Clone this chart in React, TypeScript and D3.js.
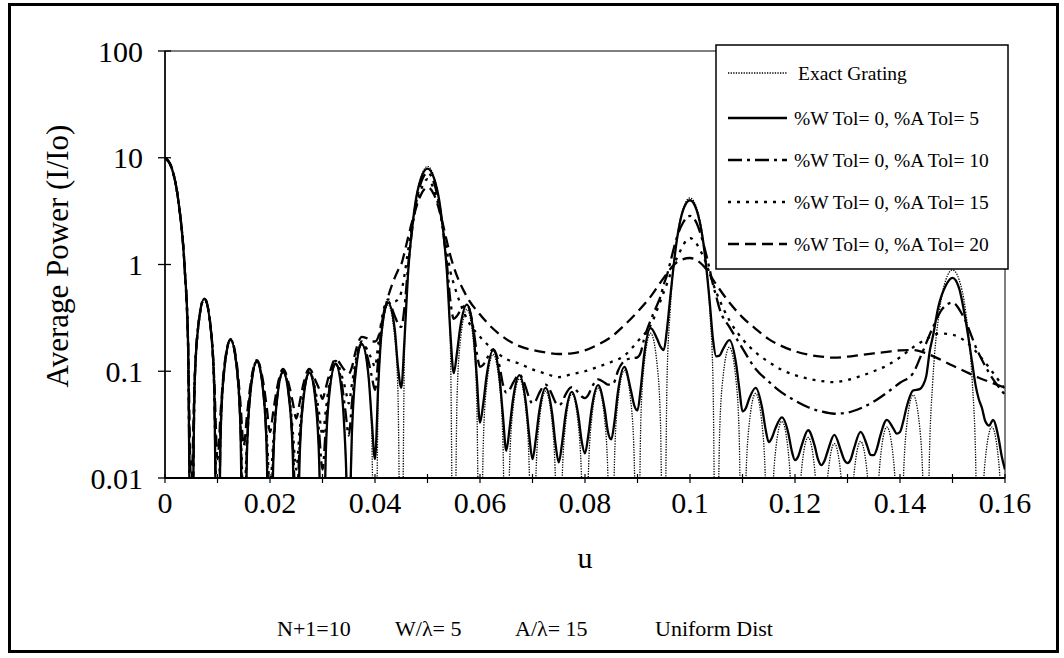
import React from 'react';
import * as d3 from 'd3';

type P = [number, number];

const xTickValues = [0, 0.01, 0.02, 0.03, 0.04, 0.05, 0.06, 0.07, 0.08, 0.09, 0.1, 0.11, 0.12, 0.13, 0.14, 0.15, 0.16];
const xLabelValues = [0, 0.02, 0.04, 0.06, 0.08, 0.1, 0.12, 0.14, 0.16];
const xLabels = ['0', '0.02', '0.04', '0.06', '0.08', '0.1', '0.12', '0.14', '0.16'];
const yTickValues = [0.01, 0.1, 1, 10, 100];
const yLabels = ['0.01', '0.1', '1', '10', '100'];

const seriesNames = [
  'Exact Grating',
  '%W Tol= 0, %A Tol= 5',
  '%W Tol= 0, %A Tol= 10',
  '%W Tol= 0, %A Tol= 15',
  '%W Tol= 0, %A Tol= 20',
];

const mainLobe: P[] = [[0, 10], [0.00125, 8.1], [0.0025, 4.09], [0.00375, 0.918], [0.004375, 0.199]];

const exactGrating: P[] = [
  ...mainLobe,
  [0.005, 0.0003], [0.005625, 0.07], [0.00625, 0.24], [0.0075, 0.48], [0.00875, 0.24], [0.009375, 0.07],
  [0.01, 0.0003], [0.010625, 0.0288], [0.01125, 0.0985], [0.0125, 0.197], [0.01375, 0.0985], [0.014375, 0.0288],
  [0.015, 0.0003], [0.015625, 0.018], [0.01625, 0.0615], [0.0175, 0.123], [0.01875, 0.0615], [0.019375, 0.018],
  [0.02, 0.0003], [0.020625, 0.0143], [0.02125, 0.049], [0.0225, 0.098], [0.02375, 0.049], [0.024375, 0.0143],
  [0.025, 0.0003], [0.025625, 0.014], [0.02625, 0.048], [0.0275, 0.096], [0.02875, 0.048], [0.029375, 0.014],
  [0.03, 0.0003], [0.030625, 0.0168], [0.03125, 0.0575], [0.0325, 0.115], [0.03375, 0.0575], [0.034375, 0.0168],
  [0.035, 0.0003], [0.035625, 0.026], [0.03625, 0.089], [0.0375, 0.178], [0.03875, 0.089], [0.039375, 0.026],
  [0.04, 0.0003], [0.040625, 0.0613], [0.04125, 0.21], [0.0425, 0.42], [0.04375, 0.21], [0.044375, 0.0613],
  [0.045, 0.0003], [0.045625, 0.161], [0.04625, 0.744], [0.0475, 3.31], [0.04875, 6.56], [0.05, 8.3], [0.05125, 6.56], [0.0525, 3.31], [0.05375, 0.744], [0.054375, 0.161],
  [0.055, 0.0003], [0.055625, 0.0555], [0.05625, 0.19], [0.0575, 0.38], [0.05875, 0.19], [0.059375, 0.0555],
  [0.06, 0.0003], [0.060625, 0.021], [0.06125, 0.072], [0.0625, 0.144], [0.06375, 0.072], [0.064375, 0.021],
  [0.065, 0.0003], [0.065625, 0.0124], [0.06625, 0.0425], [0.0675, 0.085], [0.06875, 0.0425], [0.069375, 0.0124],
  [0.07, 0.0003], [0.070625, 0.0095], [0.07125, 0.0325], [0.0725, 0.065], [0.07375, 0.0325], [0.074375, 0.0095],
  [0.075, 0.0003], [0.075625, 0.0089], [0.07625, 0.0305], [0.0775, 0.061], [0.07875, 0.0305], [0.079375, 0.0089],
  [0.08, 0.0003], [0.080625, 0.0102], [0.08125, 0.035], [0.0825, 0.07], [0.08375, 0.035], [0.084375, 0.0102],
  [0.085, 0.0003], [0.085625, 0.0149], [0.08625, 0.051], [0.0875, 0.102], [0.08875, 0.051], [0.089375, 0.0149],
  [0.09, 0.0003], [0.090625, 0.0331], [0.09125, 0.1135], [0.0925, 0.227], [0.09375, 0.1135], [0.094375, 0.0331],
  [0.095, 0.0003], [0.095625, 0.0836], [0.09625, 0.386], [0.0975, 1.72], [0.09875, 3.4], [0.1, 4.2], [0.10125, 3.4], [0.1025, 1.72], [0.10375, 0.386], [0.104375, 0.0836],
  [0.105, 0.0003], [0.105625, 0.0245], [0.10625, 0.084], [0.1075, 0.168], [0.10875, 0.084], [0.109375, 0.0245],
  [0.11, 0.0003], [0.110625, 0.009], [0.11125, 0.031], [0.1125, 0.062], [0.11375, 0.031], [0.114375, 0.009],
  [0.115, 0.0003], [0.115625, 0.005], [0.11625, 0.017], [0.1175, 0.034], [0.11875, 0.017], [0.119375, 0.005],
  [0.12, 0.0003], [0.120625, 0.0035], [0.12125, 0.012], [0.1225, 0.024], [0.12375, 0.012], [0.124375, 0.0035],
  [0.125, 0.0003], [0.125625, 0.0031], [0.12625, 0.0105], [0.1275, 0.021], [0.12875, 0.0105], [0.129375, 0.0031],
  [0.13, 0.0003], [0.130625, 0.0032], [0.13125, 0.011], [0.1325, 0.022], [0.13375, 0.011], [0.134375, 0.0032],
  [0.135, 0.0003], [0.135625, 0.0044], [0.13625, 0.015], [0.1375, 0.03], [0.13875, 0.015], [0.139375, 0.0044],
  [0.14, 0.0003], [0.140625, 0.0088], [0.14125, 0.03], [0.1425, 0.06], [0.14375, 0.03], [0.144375, 0.0088],
  [0.145, 0.0003], [0.145625, 0.0177], [0.14625, 0.0817], [0.1475, 0.364], [0.14875, 0.721], [0.15, 0.89], [0.15125, 0.721], [0.1525, 0.364], [0.15375, 0.0817], [0.154375, 0.0177],
  [0.155, 0.0003], [0.155625, 0.0044], [0.15625, 0.015], [0.1575, 0.03], [0.15875, 0.015], [0.159375, 0.0044], [0.16, 0.0003],
];

const tol5: P[] = [
  ...mainLobe,
  [0.005, 0.0003], [0.005625, 0.07], [0.00625, 0.24], [0.0075, 0.48], [0.00875, 0.24], [0.009375, 0.07],
  [0.01, 0.0003], [0.010625, 0.0288], [0.01125, 0.0985], [0.0125, 0.197], [0.01375, 0.0985], [0.014375, 0.0288],
  [0.015, 0.0003], [0.015625, 0.018], [0.01625, 0.0615], [0.0175, 0.123], [0.01875, 0.0615], [0.019375, 0.018],
  [0.02, 0.0003], [0.020625, 0.0143], [0.02125, 0.049], [0.0225, 0.098], [0.02375, 0.049], [0.024375, 0.0143],
  [0.025, 0.0003], [0.025625, 0.014], [0.02625, 0.048], [0.0275, 0.097], [0.02875, 0.048], [0.029375, 0.014],
  [0.03, 0.0005], [0.030625, 0.0168], [0.03125, 0.0575], [0.0325, 0.117], [0.03375, 0.058], [0.034375, 0.018],
  [0.035, 0.003], [0.035625, 0.028], [0.03625, 0.09], [0.0375, 0.18], [0.03875, 0.092], [0.039375, 0.035],
  [0.04, 0.015], [0.040625, 0.075], [0.04125, 0.23], [0.0425, 0.44], [0.04375, 0.25], [0.044375, 0.11],
  [0.045, 0.07], [0.045625, 0.2], [0.04625, 0.76], [0.0475, 3.25], [0.04875, 6.4], [0.05, 7.9], [0.05125, 6.4], [0.0525, 3.25], [0.05375, 0.78], [0.054375, 0.22],
  [0.055, 0.096], [0.055625, 0.15], [0.05625, 0.26], [0.0575, 0.42], [0.05875, 0.23], [0.059375, 0.09],
  [0.06, 0.033], [0.060625, 0.05], [0.06125, 0.09], [0.0625, 0.158], [0.06375, 0.085], [0.064375, 0.038],
  [0.065, 0.018], [0.065625, 0.029], [0.06625, 0.053], [0.0675, 0.092], [0.06875, 0.05], [0.069375, 0.025],
  [0.07, 0.015], [0.070625, 0.023], [0.07125, 0.041], [0.0725, 0.07], [0.07375, 0.04], [0.074375, 0.021],
  [0.075, 0.014], [0.075625, 0.021], [0.07625, 0.038], [0.0775, 0.064], [0.07875, 0.038], [0.079375, 0.022],
  [0.08, 0.017], [0.080625, 0.025], [0.08125, 0.044], [0.0825, 0.074], [0.08375, 0.044], [0.084375, 0.027],
  [0.085, 0.023], [0.085625, 0.034], [0.08625, 0.063], [0.0875, 0.11], [0.08875, 0.066], [0.089375, 0.048],
  [0.09, 0.043], [0.090625, 0.07], [0.09125, 0.14], [0.0925, 0.254], [0.09375, 0.2], [0.094375, 0.17],
  [0.095, 0.158], [0.095625, 0.25], [0.09625, 0.5], [0.0975, 1.7], [0.09875, 3.3], [0.1, 4.0], [0.10125, 3.25], [0.1025, 1.65], [0.10375, 0.45], [0.104375, 0.2],
  [0.105, 0.138], [0.105625, 0.14], [0.10625, 0.16], [0.1075, 0.196], [0.10875, 0.12], [0.109375, 0.07],
  [0.11, 0.042], [0.110625, 0.045], [0.11125, 0.055], [0.1125, 0.07], [0.11375, 0.045], [0.114375, 0.029],
  [0.115, 0.0217], [0.115625, 0.024], [0.11625, 0.029], [0.1175, 0.037], [0.11875, 0.026], [0.119375, 0.018],
  [0.12, 0.0147], [0.120625, 0.016], [0.12125, 0.02], [0.1225, 0.028], [0.12375, 0.02], [0.124375, 0.015],
  [0.125, 0.0132], [0.125625, 0.0145], [0.12625, 0.018], [0.1275, 0.0253], [0.12875, 0.018], [0.129375, 0.0148],
  [0.13, 0.0138], [0.130625, 0.015], [0.13125, 0.019], [0.1325, 0.027], [0.13375, 0.02], [0.134375, 0.0165],
  [0.135, 0.0164], [0.135625, 0.019], [0.13625, 0.025], [0.1375, 0.035], [0.13875, 0.029], [0.139375, 0.026],
  [0.14, 0.027], [0.140625, 0.034], [0.14125, 0.046], [0.1425, 0.066], [0.14375, 0.068], [0.144375, 0.074],
  [0.145, 0.09], [0.1457, 0.158], [0.14625, 0.21], [0.1473, 0.4], [0.14875, 0.64], [0.15, 0.75], [0.15125, 0.6], [0.1525, 0.3], [0.15375, 0.12], [0.154375, 0.075],
  [0.155, 0.055], [0.155625, 0.045], [0.15625, 0.034], [0.157, 0.031], [0.1577, 0.035], [0.15875, 0.024], [0.159375, 0.016], [0.16, 0.012],
];

const tol10: P[] = [
  ...mainLobe,
  [0.005, 0.0005], [0.005625, 0.0705], [0.00625, 0.24], [0.0075, 0.48], [0.00875, 0.24], [0.009375, 0.071],
  [0.01, 0.001], [0.010625, 0.03], [0.01125, 0.099], [0.0125, 0.197], [0.01375, 0.1], [0.014375, 0.031],
  [0.015, 0.002], [0.015625, 0.02], [0.01625, 0.063], [0.0175, 0.124], [0.01875, 0.063], [0.019375, 0.021],
  [0.02, 0.003], [0.020625, 0.017], [0.02125, 0.051], [0.0225, 0.099], [0.02375, 0.052], [0.024375, 0.019],
  [0.025, 0.005], [0.025625, 0.019], [0.02625, 0.051], [0.0275, 0.098], [0.02875, 0.055], [0.029375, 0.026],
  [0.03, 0.012], [0.030625, 0.029], [0.03125, 0.065], [0.0325, 0.118], [0.03375, 0.072], [0.034375, 0.042],
  [0.035, 0.025], [0.035625, 0.052], [0.03625, 0.105], [0.0375, 0.185], [0.03875, 0.125], [0.039375, 0.09],
  [0.04, 0.067], [0.040625, 0.13], [0.04125, 0.26], [0.0425, 0.45], [0.04375, 0.33], [0.044375, 0.28],
  [0.045, 0.26], [0.045625, 0.4], [0.04625, 0.9], [0.0475, 3.0], [0.04875, 5.8], [0.05, 7.2], [0.05125, 5.8], [0.0525, 3.0], [0.05375, 0.95], [0.054375, 0.45],
  [0.055, 0.31], [0.055625, 0.33], [0.05625, 0.37], [0.0575, 0.42], [0.05875, 0.25], [0.059375, 0.15],
  [0.06, 0.11], [0.060625, 0.115], [0.06125, 0.13], [0.0625, 0.16], [0.06375, 0.11], [0.064375, 0.075],
  [0.065, 0.063], [0.065625, 0.067], [0.06625, 0.077], [0.0675, 0.093], [0.06875, 0.07], [0.069375, 0.056],
  [0.07, 0.05], [0.070625, 0.053], [0.07125, 0.062], [0.0725, 0.075], [0.07375, 0.06], [0.074375, 0.051],
  [0.075, 0.048], [0.075625, 0.051], [0.07625, 0.06], [0.0775, 0.071], [0.07875, 0.063], [0.079375, 0.058],
  [0.08, 0.056], [0.080625, 0.06], [0.08125, 0.07], [0.0825, 0.084], [0.08375, 0.078], [0.084375, 0.075],
  [0.085, 0.075], [0.085625, 0.08], [0.08625, 0.1], [0.0875, 0.125], [0.08875, 0.132], [0.089375, 0.133],
  [0.09, 0.135], [0.090625, 0.15], [0.09125, 0.2], [0.0925, 0.3], [0.09375, 0.42], [0.094375, 0.5],
  [0.095, 0.65], [0.095625, 0.8], [0.09625, 1.05], [0.0975, 1.8], [0.09875, 2.5], [0.1, 2.85], [0.10125, 2.45], [0.1025, 1.6], [0.10375, 0.9], [0.104375, 0.65],
  [0.105, 0.5], [0.1057, 0.375], [0.1075, 0.26], [0.1095, 0.18], [0.1125, 0.105], [0.115, 0.08], [0.1175, 0.063], [0.12, 0.053],
  [0.1225, 0.046], [0.125, 0.042], [0.1275, 0.04], [0.13, 0.041], [0.1325, 0.045], [0.135, 0.052], [0.1375, 0.063], [0.14, 0.078],
  [0.1425, 0.096], [0.144, 0.14], [0.1463, 0.26], [0.148, 0.38], [0.15, 0.44], [0.152, 0.33], [0.1547, 0.158], [0.157, 0.096], [0.16, 0.06],
];

const tol15: P[] = [
  ...mainLobe,
  [0.005, 0.001], [0.005625, 0.071], [0.00625, 0.24], [0.0075, 0.48], [0.00875, 0.242], [0.009375, 0.073],
  [0.01, 0.003], [0.010625, 0.032], [0.01125, 0.1], [0.0125, 0.198], [0.01375, 0.101], [0.014375, 0.034],
  [0.015, 0.005], [0.015625, 0.023], [0.01625, 0.065], [0.0175, 0.125], [0.01875, 0.066], [0.019375, 0.026],
  [0.02, 0.008], [0.020625, 0.022], [0.02125, 0.054], [0.0225, 0.1], [0.02375, 0.056], [0.024375, 0.026],
  [0.025, 0.012], [0.025625, 0.027], [0.02625, 0.056], [0.0275, 0.1], [0.02875, 0.062], [0.029375, 0.04],
  [0.03, 0.025], [0.030625, 0.043], [0.03125, 0.075], [0.0325, 0.125], [0.03375, 0.088], [0.034375, 0.068],
  [0.035, 0.05], [0.035625, 0.077], [0.03625, 0.12], [0.0375, 0.19], [0.03875, 0.15], [0.039375, 0.13],
  [0.04, 0.11], [0.040625, 0.18], [0.04125, 0.3], [0.0425, 0.47], [0.04375, 0.45], [0.044375, 0.47],
  [0.045, 0.55], [0.045625, 0.8], [0.04625, 1.3], [0.0475, 3.0], [0.04875, 5.0], [0.05, 6.3], [0.05125, 5.0], [0.0525, 2.9], [0.05375, 1.3], [0.054375, 0.85],
  [0.055, 0.66], [0.0575, 0.31], [0.06, 0.21], [0.0625, 0.16], [0.065, 0.13], [0.0675, 0.118], [0.07, 0.104], [0.0725, 0.095],
  [0.075, 0.088], [0.0775, 0.094], [0.08, 0.1], [0.0825, 0.11], [0.085, 0.122], [0.0875, 0.14], [0.09, 0.19], [0.0925, 0.27],
  [0.095, 0.55], [0.0975, 1.15], [0.1, 1.77], [0.1025, 1.2], [0.105, 0.55], [0.1075, 0.3], [0.11, 0.2], [0.1125, 0.15],
  [0.115, 0.122], [0.1175, 0.103], [0.12, 0.092], [0.1225, 0.085], [0.125, 0.081], [0.1275, 0.079], [0.13, 0.083], [0.1325, 0.09],
  [0.135, 0.1], [0.1375, 0.113], [0.14, 0.135], [0.1425, 0.168], [0.145, 0.2], [0.1475, 0.226], [0.15, 0.22], [0.1525, 0.19],
  [0.155, 0.143], [0.1575, 0.1], [0.16, 0.068],
];

const tol20: P[] = [
  ...mainLobe,
  [0.005, 0.008], [0.005625, 0.078], [0.00625, 0.245], [0.0075, 0.48], [0.00875, 0.25], [0.009375, 0.085],
  [0.01, 0.015], [0.010625, 0.044], [0.01125, 0.107], [0.0125, 0.2], [0.01375, 0.11], [0.014375, 0.05],
  [0.015, 0.02], [0.015625, 0.039], [0.01625, 0.073], [0.0175, 0.127], [0.01875, 0.077], [0.019375, 0.046],
  [0.02, 0.027], [0.020625, 0.042], [0.02125, 0.066], [0.0225, 0.105], [0.02375, 0.07], [0.024375, 0.05],
  [0.025, 0.036], [0.025625, 0.05], [0.02625, 0.072], [0.0275, 0.105], [0.02875, 0.08], [0.029375, 0.068],
  [0.03, 0.055], [0.030625, 0.07], [0.03125, 0.092], [0.0325, 0.13], [0.03375, 0.11], [0.034375, 0.1],
  [0.035, 0.095], [0.035625, 0.11], [0.03625, 0.15], [0.0375, 0.21], [0.03875, 0.2], [0.039375, 0.19],
  [0.04, 0.19], [0.040625, 0.21], [0.04125, 0.28], [0.0425, 0.5], [0.04375, 0.75], [0.044375, 0.88],
  [0.045, 1.0], [0.045625, 1.3], [0.04625, 1.75], [0.0475, 3.0], [0.04875, 4.5], [0.05, 5.3], [0.05125, 4.5], [0.0525, 2.9], [0.05375, 1.6], [0.054375, 1.2],
  [0.055, 0.95], [0.0575, 0.5], [0.06, 0.34], [0.0625, 0.25], [0.065, 0.2], [0.0675, 0.172], [0.07, 0.158], [0.0725, 0.15],
  [0.075, 0.145], [0.0775, 0.147], [0.08, 0.157], [0.0825, 0.178], [0.085, 0.21], [0.0875, 0.27], [0.09, 0.36], [0.0925, 0.5],
  [0.095, 0.75], [0.0975, 1.05], [0.1, 1.15], [0.1025, 0.98], [0.105, 0.65], [0.1075, 0.44], [0.11, 0.32], [0.1125, 0.25],
  [0.115, 0.2], [0.1175, 0.172], [0.12, 0.154], [0.1225, 0.143], [0.125, 0.137], [0.1275, 0.134], [0.13, 0.137], [0.1325, 0.142],
  [0.135, 0.147], [0.1375, 0.152], [0.14, 0.157], [0.1425, 0.158], [0.145, 0.147], [0.1475, 0.13], [0.15, 0.113], [0.1525, 0.099],
  [0.155, 0.087], [0.1575, 0.078], [0.16, 0.07],
];

const seriesData: P[][] = [exactGrating, tol5, tol10, tol15, tol20];

const styles = [
  { width: 1.3, dash: '1.3 1.3' },
  { width: 2.3, dash: '' },
  { width: 2.3, dash: '14 5 3 5' },
  { width: 2.3, dash: '3 6' },
  { width: 2.3, dash: '11 6' },
];

const FONT = "'Liberation Serif', 'Times New Roman', Times, serif";

export default function App() {
  const left = 165, right = 1005, top = 51, bottom = 478;
  const x = d3.scaleLinear().domain([0, 0.16]).range([left, right]);
  const y = d3.scaleLog().domain([0.01, 100]).range([bottom, top]);
  const line = d3.line<P>().x(d => x(d[0])).y(d => y(d[1])).curve(d3.curveMonotoneX);

  const drawOrder = [4, 3, 2, 1, 0];
  const legendX = 716, legendY = 45, legendW = 292, legendH = 224;
  const legendRows = [73, 118, 160, 202, 244];
  const tx = { fontFamily: FONT, fill: '#000' } as React.CSSProperties;

  return (
    <svg width={1064} height={658} style={{ position: 'absolute', left: 0, top: 0, background: '#fff', fontFamily: FONT }}>
      <rect x={0} y={0} width={1064} height={658} fill="#fff" />
      <rect x={9.5} y={4.5} width={1048} height={647} fill="none" stroke="#000" strokeWidth={3} />
      <defs>
        <clipPath id="plotClip">
          <rect x={left} y={top} width={right - left} height={bottom - top} />
        </clipPath>
      </defs>
      <rect x={left} y={top} width={right - left} height={bottom - top} fill="none" stroke="#000" strokeWidth={1} />
      <g clipPath="url(#plotClip)">
        {drawOrder.map(i => (
          <path key={i} d={line(seriesData[i]) || ''} fill="none" stroke="#000"
            strokeWidth={styles[i].width} strokeDasharray={styles[i].dash || undefined} strokeLinejoin="round" />
        ))}
      </g>
      <line x1={left} x2={left} y1={top} y2={bottom} stroke="#000" strokeWidth={1.5} />
      <line x1={left} x2={right} y1={bottom} y2={bottom} stroke="#000" strokeWidth={2} />
      {yTickValues.map((v, i) => (
        <g key={'y' + i}>
          <line x1={left - 7} x2={left + 6} y1={y(v)} y2={y(v)} stroke="#000" strokeWidth={1.3} />
          <text x={143} y={y(v)} dy="0.35em" textAnchor="end" fontSize={30} style={tx}>{yLabels[i]}</text>
        </g>
      ))}
      {xTickValues.map((v, i) => (
        <line key={'xt' + i} x1={x(v)} x2={x(v)} y1={bottom - 4} y2={bottom + 5} stroke="#000" strokeWidth={1.2} />
      ))}
      {xLabelValues.map((v, i) => (
        <text key={'xl' + i} x={x(v)} y={513} textAnchor="middle" fontSize={30} style={tx}>{xLabels[i]}</text>
      ))}
      <text x={585} y={568} textAnchor="middle" fontSize={30} style={tx}>u</text>
      <text transform="translate(57,256) rotate(-90)" textAnchor="middle" dy="0.35em" fontSize={31} style={tx}>Average Power (I/Io)</text>
      <text x={277} y={636} fontSize={22} style={tx}>N+1=10</text>
      <text x={395} y={636} fontSize={22} style={tx}>W/λ= 5</text>
      <text x={515} y={636} fontSize={22} style={tx}>A/λ= 15</text>
      <text x={655} y={636} fontSize={22} style={tx}>Uniform Dist</text>
      <rect x={legendX} y={legendY} width={legendW} height={legendH} fill="#fff" stroke="#000" strokeWidth={1.5} />
      {seriesNames.map((name, i) => (
        <g key={'lg' + i}>
          <line x1={728} x2={787} y1={legendRows[i]} y2={legendRows[i]} stroke="#000"
            strokeWidth={styles[i].width} strokeDasharray={styles[i].dash || undefined} />
          <text x={i === 0 ? 798 : 794} y={legendRows[i]} dy="0.35em" fontSize={19.5} style={tx}>{name}</text>
        </g>
      ))}
    </svg>
  );
}
